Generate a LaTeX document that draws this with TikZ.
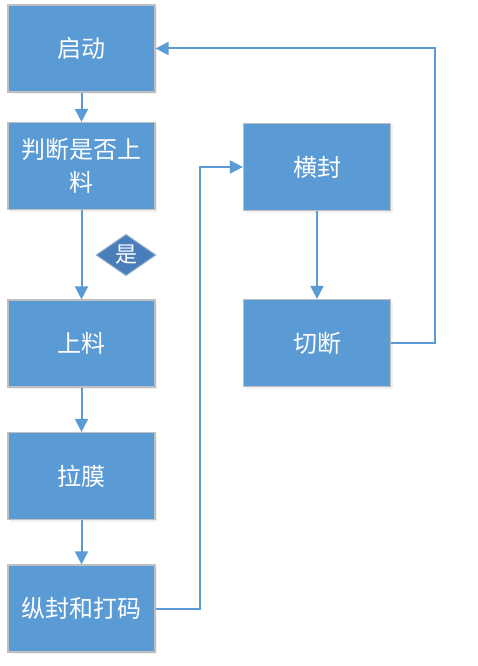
\documentclass[tikz,border=0pt]{standalone}
\usepackage{fontspec}
\newfontfamily\cjk{Noto Sans CJK SC}
\usetikzlibrary{arrows.meta,shapes.geometric,shadows}
\definecolor{boxblue}{HTML}{5B9BD5}
\definecolor{boxgrey}{HTML}{BFBFBF}
\definecolor{tagblue}{HTML}{4A7EBB}
\begin{document}
\begin{tikzpicture}[x=1pt,y=-1pt,
  proc/.style={draw=boxgrey,line width=1.2pt,fill=boxblue,text=white,
    minimum width=147pt,minimum height=87pt,align=center,
    font=\cjk\fontsize{24}{33}\selectfont,
    drop shadow={opacity=.12,shadow xshift=2pt,shadow yshift=-2pt}},
  flow/.style={draw=boxblue,line width=2pt,-{Triangle[length=13pt,width=13pt]}}]
\useasboundingbox (0,0) rectangle (478,666);
\foreach \n/\y/\t in {qidong/48.5/启动, panduan/166/判断是否上\\料, shangliao/343.5/上料, lamo/476/拉膜, zongfeng/608.5/纵封和打码}
{
    \node[proc] (\n) at (81.5,\y) {\t};
}
\node[proc] (hengfeng) at (317,167) {横封};
\node[proc] (qieduan) at (317,343) {切断};
\node[diamond,draw=boxgrey!60!boxblue,line width=1pt,fill=tagblue,text=white,
  minimum width=60pt,minimum height=36pt,inner sep=0pt,
  font=\cjk\fontsize{22}{26}\selectfont] (shi) at (126,255) {是};

\foreach \a/\b in {qidong/panduan, panduan/shangliao, shangliao/lamo, lamo/zongfeng, hengfeng/qieduan}
{
    \draw[flow] (\a) -- (\b);
}
\draw[flow] (zongfeng.east) -- ++(44,0) |- (hengfeng.west);
\draw[flow] (qieduan.east) -- ++(44,0) |- (qidong.east);

\end{tikzpicture}
\end{document}
